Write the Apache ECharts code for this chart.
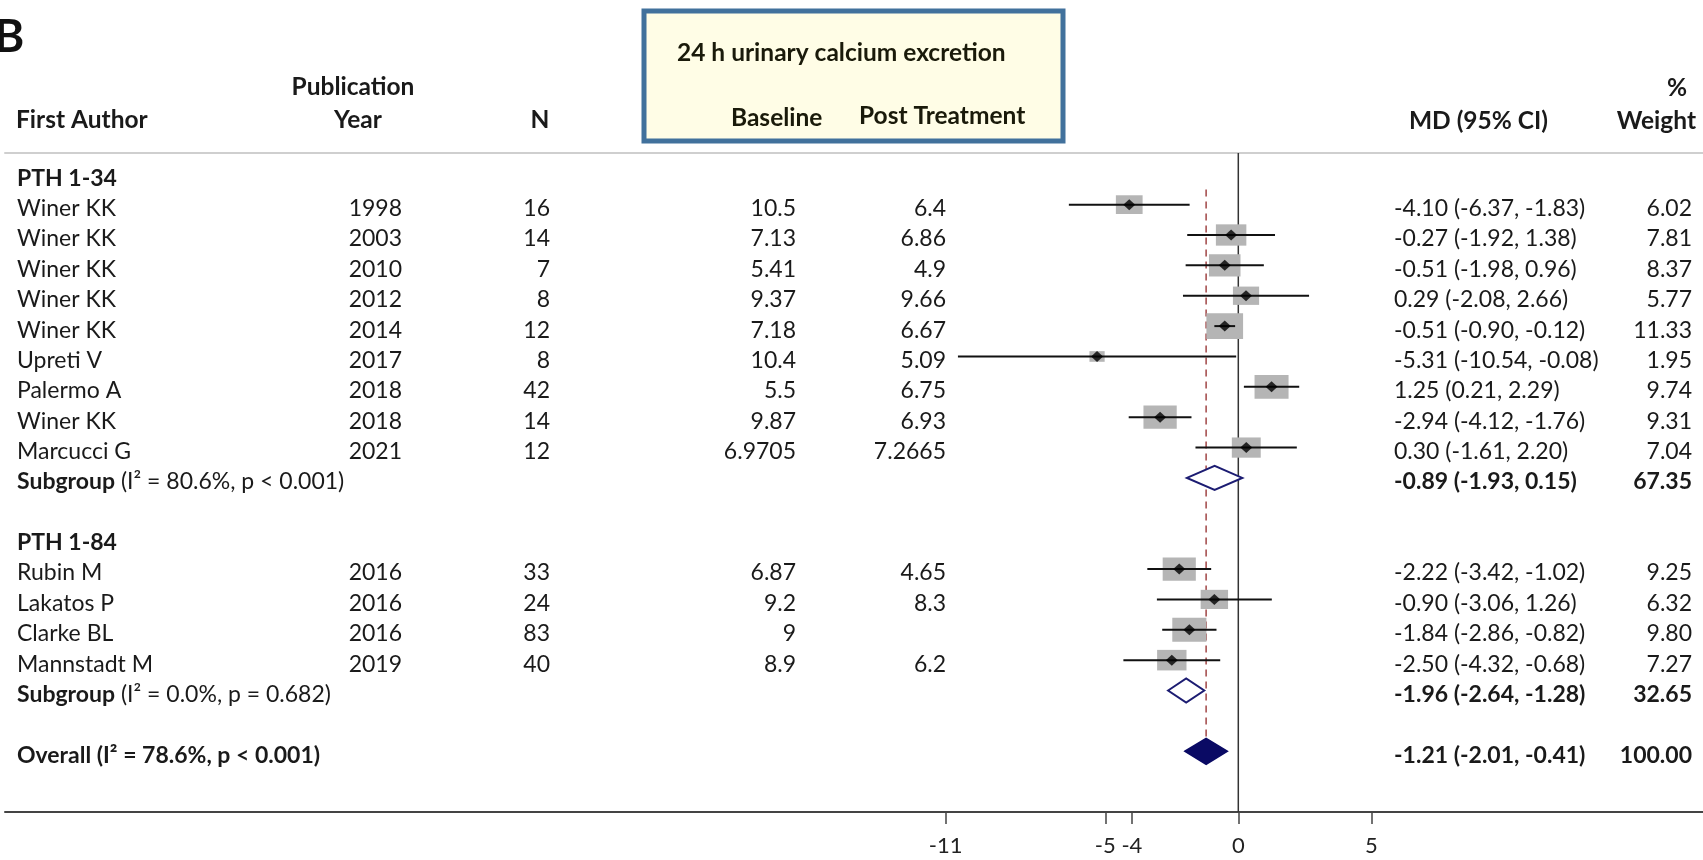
<!DOCTYPE html>
<html><head><meta charset="utf-8">
<script src="https://cdn.jsdelivr.net/npm/echarts@6/dist/echarts.min.js"></script>
<style>html,body{margin:0;padding:0;background:#fff}#c{width:1703px;height:860px}</style>
</head><body><div id="c"></div>
<script>
// ---------- data ----------
const groupNames = ['PTH 1-34', 'PTH 1-84'];
const g1Authors = ['Winer KK','Winer KK','Winer KK','Winer KK','Winer KK','Upreti V','Palermo A','Winer KK','Marcucci G'];
const g1Years   = ['1998','2003','2010','2012','2014','2017','2018','2018','2021'];
const g1N       = ['16','14','7','8','12','8','42','14','12'];
const g1Base    = ['10.5','7.13','5.41','9.37','7.18','10.4','5.5','9.87','6.9705'];
const g1Post    = ['6.4','6.86','4.9','9.66','6.67','5.09','6.75','6.93','7.2665'];
const g1MD      = [-4.10,-0.27,-0.51,0.29,-0.51,-5.31,1.25,-2.94,0.30];
const g1Lo      = [-6.37,-1.92,-1.98,-2.08,-0.90,-10.54,0.21,-4.12,-1.61];
const g1Hi      = [-1.83,1.38,0.96,2.66,-0.12,-0.08,2.29,-1.76,2.20];
const g1W       = [6.02,7.81,8.37,5.77,11.33,1.95,9.74,9.31,7.04];

const g2Authors = ['Rubin M','Lakatos P','Clarke BL','Mannstadt M'];
const g2Years   = ['2016','2016','2016','2019'];
const g2N       = ['33','24','83','40'];
const g2Base    = ['6.87','9.2','9','8.9'];
const g2Post    = ['4.65','8.3','','6.2'];
const g2MD      = [-2.22,-0.90,-1.84,-2.50];
const g2Lo      = [-3.42,-3.06,-2.86,-4.32];
const g2Hi      = [-1.02,1.26,-0.82,-0.68];
const g2W       = [9.25,6.32,9.80,7.27];

const subMD  = [-0.89,-1.96];
const subLo  = [-1.93,-2.64];
const subHi  = [0.15,-1.28];
const subW   = [67.35,32.65];
const subHet = ['(I\u00B2 = 80.6%, p < 0.001)','(I\u00B2 = 0.0%, p = 0.682)'];

const overallMD = -1.21, overallLo = -2.01, overallHi = -0.41, overallW = 100.00;
const overallHet = '(I\u00B2 = 78.6%, p < 0.001)';

const xTicks = [-11,-5,-4,0,5];

// ---------- build rows ----------
const rows = [];
let r = 0;
function addGroup(gi, A, Y, N, B, P, MD, LO, HI, W){
  rows.push({row:r++, kind:'header', label:groupNames[gi]});
  for (let i=0;i<A.length;i++){
    rows.push({row:r++, kind:'study', label:A[i], year:Y[i], n:N[i], base:B[i], post:P[i], md:MD[i], lo:LO[i], hi:HI[i], w:W[i]});
  }
  rows.push({row:r++, kind:'sub', label:'Subgroup', het:subHet[gi], md:subMD[gi], lo:subLo[gi], hi:subHi[gi], w:subW[gi]});
  r++; // blank row
}
addGroup(0,g1Authors,g1Years,g1N,g1Base,g1Post,g1MD,g1Lo,g1Hi,g1W);
addGroup(1,g2Authors,g2Years,g2N,g2Base,g2Post,g2MD,g2Lo,g2Hi,g2W);
rows.push({row:r++, kind:'overall', label:'Overall', het:overallHet, md:overallMD, lo:overallLo, hi:overallHi, w:overallW});

const studies = rows.filter(d=>d.kind==='study');
const summaries = rows.filter(d=>d.kind==='sub'||d.kind==='overall');

function f2(v){ return v.toFixed(2); }
function mdText(d){ return f2(d.md)+' ('+f2(d.lo)+', '+f2(d.hi)+')'; }

// ---------- style ----------
const FONT = 'Lato';
const REG = '23px '+FONT;
const BOLD = 'bold 23px '+FONT;
const HEAD = 'bold 24.5px '+FONT;
const TXT = '#1a1a1a';
const TEXT_DY = 4;
const COL = {author:17, year:402, n:550, base:796, post:946, md:1394, w:1692};

function txt(x,y,text,font,align){
  return {type:'text', style:{x:x, y:y, text:text, font:font, fill:TXT, align:align||'left', verticalAlign:'middle'}};
}
function head(x,y,text,align,fill){
  return {type:'text', x:x, y:y, style:{text:text, font:HEAD, fill:fill||TXT, align:align, verticalAlign:'middle'}};
}

const chart = echarts.init(document.getElementById('c'), null, {renderer:'canvas'});

const option = {
  animation:false,
  backgroundColor:'#fff',
  grid:{left:5, right:0, top:153, bottom:48},
  xAxis:[{
    type:'value', min:-46.365, max:17.47, position:'bottom',
    axisLine:{show:true, onZero:false, lineStyle:{color:'#444', width:2}},
    axisTick:{show:true, length:12, customValues:xTicks, lineStyle:{color:'#444', width:1.5}},
    axisLabel:{show:true, customValues:xTicks, margin:23, fontFamily:FONT, fontSize:22, color:'#222'},
    splitLine:{show:false}
  },{
    type:'value', min:-46.365, max:17.47, position:'top',
    axisLine:{show:true, onZero:false, lineStyle:{color:'#cfcfcf', width:2}},
    axisTick:{show:false}, axisLabel:{show:false}, splitLine:{show:false}
  }],
  yAxis:{type:'value', inverse:true, min:-0.7, max:21, show:false},
  graphic:[
    {type:'text', left:-6, top:14, style:{text:'B', font:'bold 46px '+FONT, fill:'#111'}},
    head(353, 87, 'Publication', 'center'),
    head(358, 120, 'Year', 'center'),
    head(16, 120, 'First Author', 'left'),
    head(540, 120, 'N', 'center'),
    {type:'rect', shape:{x:644, y:11, width:419, height:130}, style:{fill:'#fffde6', stroke:'#41719c', lineWidth:5}},
    head(677, 53, '24 h urinary calcium excretion', 'left', '#1a1a0a'),
    head(731, 118, 'Baseline', 'left', '#1a1a0a'),
    head(859, 116, 'Post Treatment', 'left', '#1a1a0a'),
    head(1548, 121, 'MD (95% CI)', 'right'),
    head(1687, 88, '%', 'right'),
    head(1696, 121, 'Weight', 'right')
  ],
  series:[
    // zero line
    {type:'line', data:[[0,-0.7],[0,21]], symbol:'none', silent:true, z:2,
     lineStyle:{color:'#333', width:1.5}},
    // overall dashed line
    {type:'line', data:[[overallMD,0.5],[overallMD,19.45]], symbol:'none', silent:true, z:2,
     lineStyle:{color:'#a04545', width:1.5, type:[7,5]}},
    // weight boxes
    {type:'scatter', data:studies.map(d=>[d.md, d.row, d.w]), z:3,
     symbol:'rect',
     symbolSize:function(v){ const w = 10.9*Math.sqrt(v[2]); return [w, w/1.43]; },
     itemStyle:{color:'#b5b5b5', opacity:1}},
    // CI lines
    {type:'custom', z:4, data:studies.map(d=>[d.lo, d.row, d.hi]),
     encode:{x:[0,2], y:1},
     renderItem:function(params, api){
       const a = api.coord([api.value(0), api.value(1)]);
       const b = api.coord([api.value(2), api.value(1)]);
       return {type:'line', shape:{x1:a[0], y1:a[1], x2:b[0], y2:b[1]}, style:{stroke:'#111', lineWidth:2}};
     }},
    // point estimates
    {type:'scatter', z:5, data:studies.map(d=>[d.md, d.row]), symbol:'diamond', symbolSize:[12,11],
     itemStyle:{color:'#000'}},
    // summary diamonds
    {type:'custom', z:5, data:summaries.map(d=>[d.md, d.row, d.lo, d.hi, d.kind==='overall'?1:0]),
     encode:{x:[0,2,3], y:1},
     renderItem:function(params, api){
       const row = api.value(1);
       const c = api.coord([api.value(0), row]);
       const L = api.coord([api.value(2), row]);
       const R = api.coord([api.value(3), row]);
       const filled = api.value(4)===1;
       const h = filled ? 26 : 24;
       return {type:'polygon', shape:{points:[[L[0],c[1]],[c[0],c[1]-h/2],[R[0],c[1]],[c[0],c[1]+h/2]]},
         style: filled ? {fill:'#0a0a64', stroke:'#0a0a64', lineWidth:1.5} : {fill:'#fff', stroke:'#1c1c72', lineWidth:2}};
     }},
    // table text
    {type:'custom', z:6, silent:true, data:rows.map((d,i)=>[0, d.row, i]),
     encode:{x:0, y:1},
     renderItem:function(params, api){
       const d = rows[api.value(2)];
       const y = api.coord([0, d.row])[1] + TEXT_DY;
       const ch = [];
       if (d.kind==='header'){
         ch.push(txt(COL.author, y, d.label, BOLD));
       } else if (d.kind==='study'){
         ch.push(txt(COL.author, y, d.label, REG));
         ch.push(txt(COL.year, y, d.year, REG, 'right'));
         ch.push(txt(COL.n, y, d.n, REG, 'right'));
         ch.push(txt(COL.base, y, d.base, REG, 'right'));
         ch.push(txt(COL.post, y, d.post, REG, 'right'));
         ch.push(txt(COL.md, y, mdText(d), REG));
         ch.push(txt(COL.w, y, f2(d.w), REG, 'right'));
       } else if (d.kind==='sub'){
         ch.push({type:'text', style:{x:COL.author, y:y, text:'{b|'+d.label+'} '+d.het, font:REG, fill:TXT,
           align:'left', verticalAlign:'middle', rich:{b:{font:BOLD, fill:TXT}}}});
         ch.push(txt(COL.md, y, mdText(d), BOLD));
         ch.push(txt(COL.w, y, f2(d.w), BOLD, 'right'));
       } else {
         ch.push(txt(COL.author, y, d.label+' '+d.het, BOLD));
         ch.push(txt(COL.md, y, mdText(d), BOLD));
         ch.push(txt(COL.w, y, f2(d.w), BOLD, 'right'));
       }
       return {type:'group', children:ch};
     }}
  ]
};
chart.setOption(option);
</script>
</body></html>
